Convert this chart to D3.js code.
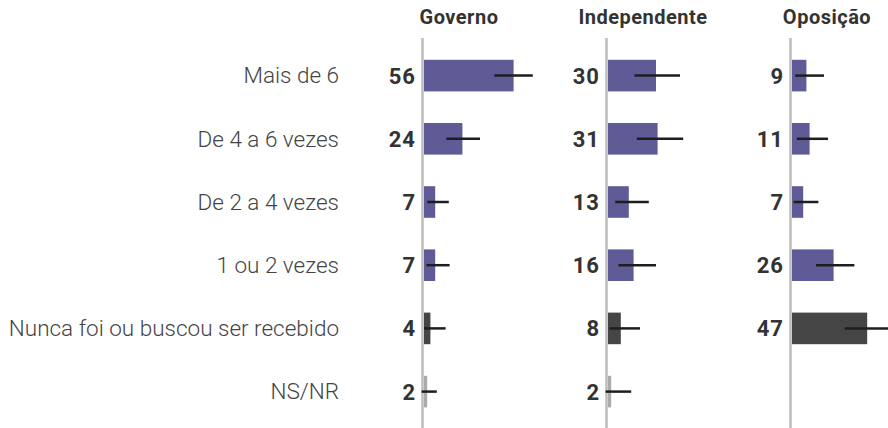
<!DOCTYPE html>
<html>
<head>
<meta charset="utf-8">
<script src="https://cdn.jsdelivr.net/npm/d3@7"></script>
<style>
  body { margin: 0; background: #fff; }
  svg { display: block; font-family: Roboto, sans-serif; }
</style>
</head>
<body>
<svg id="vis" width="888" height="428"></svg>
<script>
// data
const categories = ["Mais de 6", "De 4 a 6 vezes", "De 2 a 4 vezes", "1 ou 2 vezes", "Nunca foi ou buscou ser recebido", "NS/NR"]
const groups = ["Governo", "Independente", "Oposição"]
const governo = [56, 24, 7, 7, 4, 2]
const independente = [30, 31, 13, 16, 8, 2]
const oposicao = [9, 11, 7, 26, 47, null]
// error bars (low, high)
const governoLow = [44, 14, 2, 1.5, 0, -1.5]
const governoHigh = [68, 35, 15.5, 16, 13.5, 8]
const independenteLow = [16.5, 18, 4.5, 6.5, 1, -1.5]
const independenteHigh = [45, 47, 25.5, 30, 20, 14.5]
const oposicaoLow = [2, 3, 1, 15, 33, null]
const oposicaoHigh = [20, 22.5, 16.5, 39, 61, null]

const series = [
  { name: groups[0], values: governo, low: governoLow, high: governoHigh },
  { name: groups[1], values: independente, low: independenteLow, high: independenteHigh },
  { name: groups[2], values: oposicao, low: oposicaoLow, high: oposicaoHigh }
]

const vis = d3.select("#vis")

// scales
const xGroup = d3.scaleBand().domain(groups).range([424, 424 + 3 * 184])
const xValue = d3.scaleLinear().domain([0, 100]).range([0, 160])
const y = d3.scaleBand().domain(categories).range([44, 44 + 6 * 63.2]).paddingInner(0.5).paddingOuter(0.25)

const barColor = (cat) => cat === "NS/NR" ? "#ababab" : (cat.startsWith("Nunca") ? "#454545" : "#5f5b97")

// category labels
vis.append("g")
  .selectAll("text")
  .data(categories)
  .join("text")
  .attr("x", 339)
  .attr("y", d => y(d) + y.bandwidth() / 2)
  .attr("dy", "0.35em")
  .attr("text-anchor", "end")
  .attr("font-size", 22.5)
  .attr("font-weight", 300)
  .attr("fill", "#444")
  .text(d => d)

const col = vis.selectAll(".col")
  .data(series)
  .join("g")
  .attr("class", "col")
  .attr("transform", d => `translate(${xGroup(d.name)},0)`)

// titles
col.append("text")
  .attr("x", 35)
  .attr("y", 24)
  .attr("text-anchor", "middle")
  .attr("font-size", 20)
  .attr("font-weight", 700)
  .attr("letter-spacing", 0.5)
  .attr("fill", "#333")
  .text(d => d.name)

// baseline
col.append("line")
  .attr("x1", -1.5).attr("x2", -1.5)
  .attr("y1", 38).attr("y2", 428)
  .attr("stroke", "#bdbdbd")
  .attr("stroke-width", 2.5)

const rows = col.selectAll(".row")
  .data(s => categories.map((c, i) => ({ cat: c, v: s.values[i], lo: s.low[i], hi: s.high[i] })).filter(d => d.v != null))
  .join("g")
  .attr("class", "row")

// bars
rows.append("rect")
  .attr("x", 0)
  .attr("y", d => y(d.cat))
  .attr("width", d => xValue(d.v))
  .attr("height", y.bandwidth())
  .attr("fill", d => barColor(d.cat))

// error bars
rows.append("line")
  .attr("x1", d => xValue(d.lo))
  .attr("x2", d => xValue(d.hi))
  .attr("y1", d => y(d.cat) + y.bandwidth() / 2)
  .attr("y2", d => y(d.cat) + y.bandwidth() / 2)
  .attr("stroke", "#1e1e1e")
  .attr("stroke-width", 2.5)

// value labels
rows.append("text")
  .attr("x", -8)
  .attr("y", d => y(d.cat) + y.bandwidth() / 2)
  .attr("dy", "0.36em")
  .attr("text-anchor", "end")
  .attr("font-size", 22)
  .attr("font-weight", 700)
  .attr("letter-spacing", 1)
  .attr("fill", "#333")
  .text(d => d.v)
</script>
</body>
</html>
